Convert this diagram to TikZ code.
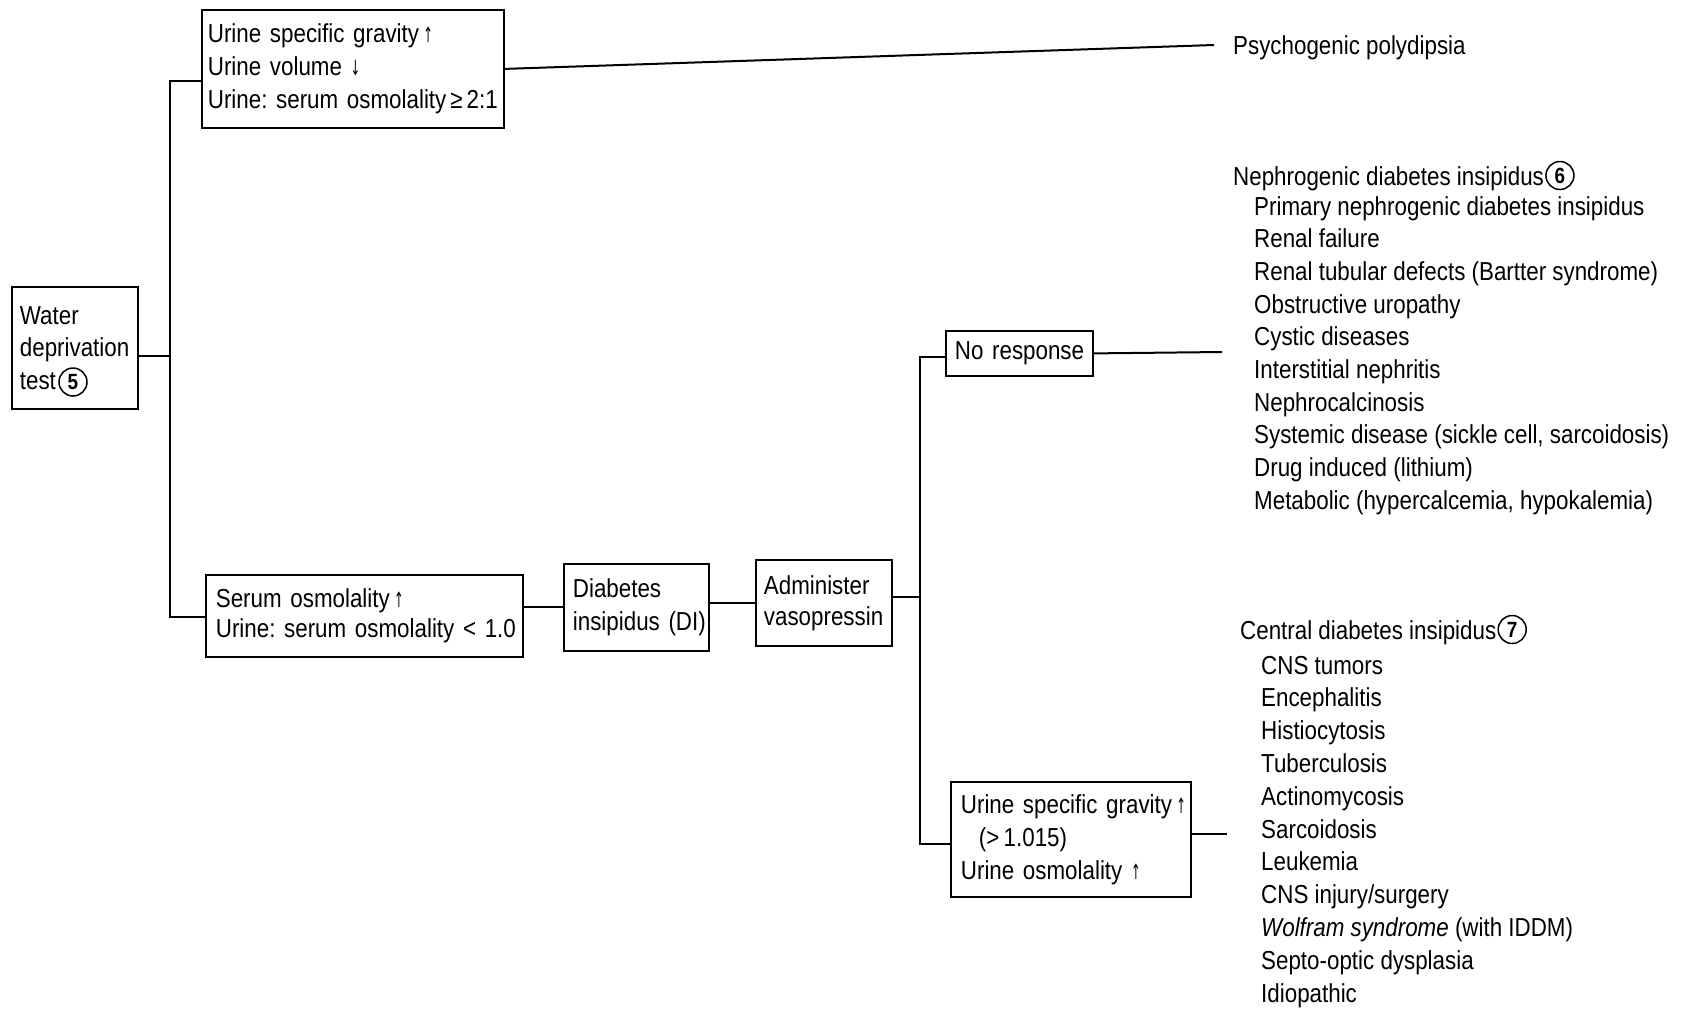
\documentclass[tikz,border=0pt]{standalone}
\usepackage{fontspec}
\setmainfont{Liberation Sans}[FakeStretch=0.86]
\newfontfamily\arrfont{DejaVu Sans}[FakeStretch=0.55]
\newcommand\upar{\smash{\arrfont\fontsize{21}{21}\selectfont ↑}}
\newcommand\dnar{\smash{\arrfont\fontsize{21}{21}\selectfont ↓}}
\frenchspacing
\begin{document}
\begin{tikzpicture}[x=1pt,y=-1pt,
  box/.style={draw, line width=1.8pt, anchor=north west, inner xsep=8pt, inner ysep=0pt, align=left, font=\fontsize{26}{33}\selectfont},
  item/.style={anchor=base west, inner sep=0pt, font=\fontsize{26}{33}\selectfont},
  circ/.style={circle, draw, line width=1.5pt, minimum size=28pt, inner sep=0pt, font=\bfseries\fontsize{22}{22}\selectfont},
  conn/.style={line width=2pt}]
\useasboundingbox[fill=white] (0,0) rectangle (1692,1010);

% boxes
\node[box, minimum width=126pt, minimum height=122pt, text width=110pt, font=\fontsize{26}{32.5}\selectfont] (water) at (11,286) {Water\\\mbox{deprivation}\\test};
\node[circ] (c5) at (73,382) {5};

\node[box, inner xsep=6pt, minimum width=302pt, minimum height=118pt, text width=290pt] (top) at (201,9)
  {\mbox{Urine specific gravity\,\upar}\\\mbox{Urine volume \dnar}\\\mbox{Urine: serum osmolality\hspace{4pt}≥\hspace{4pt}2:1}};

\node[box, inner xsep=10pt, minimum width=317pt, minimum height=82pt, text width=297pt, font=\fontsize{26}{30.5}\selectfont] (serum) at (205,574)
  {\mbox{Serum osmolality\,\upar}\\\mbox{Urine: serum osmolality < 1.0}};

\node[box, inner xsep=9pt, minimum width=145pt, minimum height=87pt, text width=127pt, font=\fontsize{26}{33}\selectfont] (di) at (563,563)
  {Diabetes\\\mbox{insipidus (DI)}};

\node[box, inner xsep=8pt, minimum width=136pt, minimum height=86pt, text width=120pt, font=\fontsize{26}{31}\selectfont] (vaso) at (755,559)
  {\mbox{Administer}\\\mbox{vasopressin}};

\node[box, inner xsep=9pt, minimum width=147pt, minimum height=45pt, text width=129pt] (noresp) at (945,330)
  {\mbox{No response}};

\node[box, inner xsep=10pt, minimum width=240pt, minimum height=115pt, text width=220pt] (usg) at (950,781)
  {\mbox{Urine specific gravity\,\upar}\\\mbox{\hspace*{18pt}(>\,1.015)}\\\mbox{Urine osmolality \upar}};

% outcome texts
\node[item] (psych) at (1233,54) {Psychogenic polydipsia};

\node[item] (neph) at (1233,185) {Nephrogenic diabetes insipidus};
\node[circ, anchor=west] (c6) at ([xshift=1pt,yshift=9.5pt]neph.base east) {6};
\foreach \t [count=\i from 0] in {
  {Primary nephrogenic diabetes insipidus},
  {Renal failure},
  {Renal tubular defects (Bartter syndrome)},
  {Obstructive uropathy},
  {Cystic diseases},
  {Interstitial nephritis},
  {Nephrocalcinosis},
  {Systemic disease (sickle cell, sarcoidosis)},
  {Drug induced (lithium)},
  {Metabolic (hypercalcemia, hypokalemia)}}
  \node[item] (n\i) at (1254,{215+32.7*\i}) {\t};

\node[item] (cent) at (1240,639) {Central diabetes insipidus};
\node[circ, anchor=west] (c7) at ([xshift=1pt,yshift=9.5pt]cent.base east) {7};
\foreach \t [count=\i from 0] in {
  {CNS tumors},
  {Encephalitis},
  {Histiocytosis},
  {Tuberculosis},
  {Actinomycosis},
  {Sarcoidosis},
  {Leukemia},
  {CNS injury/surgery},
  {\textit{Wolfram syndrome} (with IDDM)},
  {Septo-optic dysplasia},
  {Idiopathic}}
  \node[item] (m\i) at (1261,{674+32.8*\i}) {\t};

% connectors
\coordinate (j1) at (170,356);
\coordinate (t1top) at (170,81);
\coordinate (t1bot) at (170,617);
\draw[conn] (water.east |- j1) -- (j1);
\draw[conn] (top.west |- t1top) -- (t1top) -- (t1bot) -- (serum.west |- t1bot);

\coordinate (pend) at (1214,45);
\draw[conn] (top.east) -- (pend);

\draw[conn] (serum.east |- di.west) -- (di.west);
\draw[conn] (di.east |- vaso.west) -- (vaso.west);

\coordinate (t2mid) at (920,597);
\coordinate (t2top) at (920,357);
\coordinate (t2bot) at (920,844);
\draw[conn] (vaso.east |- t2mid) -- (t2mid);
\draw[conn] (noresp.west |- t2top) -- (t2top) -- (t2bot) -- (usg.west |- t2bot);

\coordinate (nend) at (1222,352);
\draw[conn] (noresp.east) -- (nend);
\coordinate (uend) at (1227,834);
\draw[conn] (usg.east |- uend) -- (uend);
\end{tikzpicture}
\end{document}
